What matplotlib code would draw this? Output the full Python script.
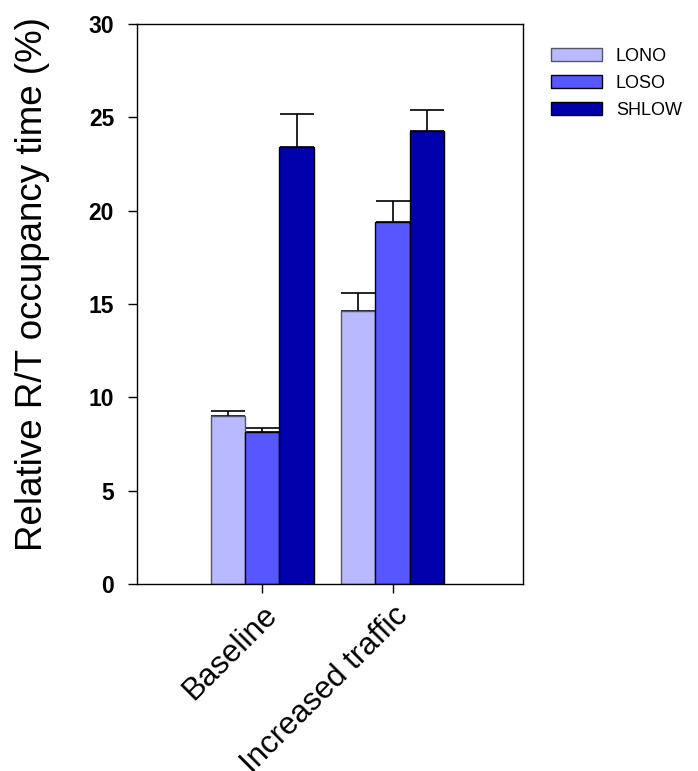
import numpy as np
import matplotlib
matplotlib.use("Agg")
import matplotlib.pyplot as plt
from matplotlib.patches import Patch

plt.rcParams['font.family'] = ['Liberation Sans', 'DejaVu Sans']

conditions = ['Baseline', 'Increased traffic']
groups = ['LONO', 'LOSO', 'SHLOW']
means = {
    'LONO': [9.02, 14.64],
    'LOSO': [8.12, 19.37],
    'SHLOW': [23.44, 24.25],
}
errors = {
    'LONO': [0.27, 0.93],
    'LOSO': [0.25, 1.16],
    'SHLOW': [1.73, 1.15],
}
colors = {'LONO': '#b9b9ff', 'LOSO': '#5757ff', 'SHLOW': '#0000ad'}
edges = {'LONO': '#555566', 'LOSO': 'black', 'SHLOW': 'black'}

fig = plt.figure(figsize=(6.98, 7.71), dpi=100)
ax = fig.add_axes([0.1963, 0.2425, 0.553, 0.7263])

x = np.arange(len(conditions))
width = 0.264
handles = []
for i, g in enumerate(groups):
    pos = x + (i - 1) * width
    ax.bar(pos, means[g], width, color=colors[g], edgecolor=edges[g],
           linewidth=1.0, zorder=2)
    ax.errorbar(pos, means[g], yerr=[np.zeros(len(x)), errors[g]],
                fmt='none', ecolor='black', elinewidth=1.2,
                capsize=12, capthick=1.2, zorder=1)
    handles.append(Patch(facecolor=colors[g], edgecolor=edges[g], label=g))

ax.set_xlim(-0.96, 2.0)
ax.set_ylim(0, 30)
ax.set_yticks([0, 5, 10, 15, 20, 25, 30])
ax.set_xticks(x)
ax.set_xticklabels(conditions, rotation=45, ha='right',
                   rotation_mode='anchor', fontsize=22.5)
for lab in ax.get_yticklabels():
    lab.set_fontweight('bold')
    lab.set_fontsize(16.5)
ax.tick_params(axis='both', direction='out', length=6.5, width=1)
ax.tick_params(axis='y', pad=10)
ax.tick_params(axis='x', pad=5)
for s in ax.spines.values():
    s.set_linewidth(1.0)

# y label sits a little above the axes centre
fig.text(0.047, 0.632, 'Relative R/T occupancy time (%)', rotation=90,
         ha='center', va='center', fontsize=26.5)

fig.legend(handles=handles, loc='upper left', bbox_to_anchor=(0.789, 0.938),
           frameon=False, fontsize=13, handlelength=2.83, handleheight=0.75,
           labelspacing=0.55, handletextpad=0.78, borderpad=0,
           borderaxespad=0)

fig.savefig('out.png', dpi=100)
